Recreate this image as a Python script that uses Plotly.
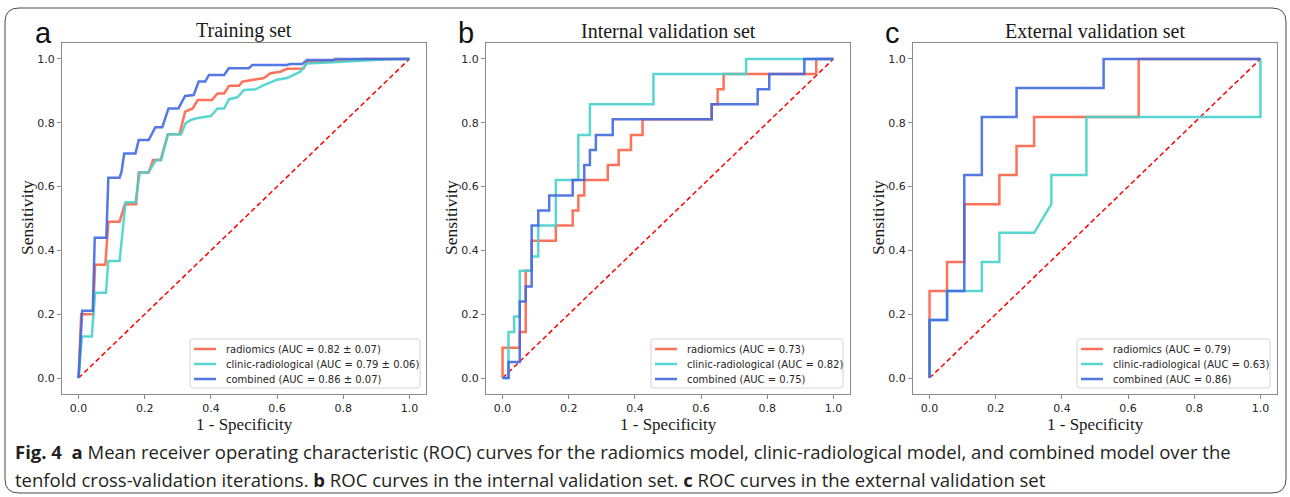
import plotly.graph_objects as go

# ---------------- data ----------------
panel_titles = ["Training set", "Internal validation set", "External validation set"]
panel_letters = ["a", "b", "c"]
series_names = ["radiomics", "clinic-radiological", "combined"]
series_colors = ["rgba(255,99,71,0.9)", "rgba(72,209,204,0.9)", "rgba(65,105,225,0.9)"]

auc_labels = [
    ["radiomics (AUC = 0.82 ± 0.07)", "clinic-radiological (AUC = 0.79 ± 0.06)", "combined (AUC = 0.86 ± 0.07)"],
    ["radiomics (AUC = 0.73)", "clinic-radiological (AUC = 0.82)", "combined (AUC = 0.75)"],
    ["radiomics (AUC = 0.79)", "clinic-radiological (AUC = 0.63)", "combined (AUC = 0.86)"],
]

# Training set (mean ROC)
train_fpr_radiomics = [0, 0.008, 0.044, 0.05, 0.081, 0.09, 0.124, 0.14, 0.174, 0.182, 0.212, 0.225, 0.248, 0.27, 0.305,
                       0.322, 0.345, 0.36, 0.403, 0.42, 0.44, 0.455, 0.485, 0.495, 0.56, 0.58, 0.61, 0.63, 0.68, 0.69,
                       0.8, 0.86, 1.0]
train_tpr_radiomics = [0, 0.2, 0.2, 0.355, 0.355, 0.49, 0.49, 0.545, 0.545, 0.644, 0.644, 0.683, 0.683, 0.764, 0.764,
                       0.835, 0.845, 0.871, 0.871, 0.892, 0.892, 0.916, 0.916, 0.929, 0.94, 0.955, 0.96, 0.969, 0.97,
                       0.99, 0.995, 1.0, 1.0]
train_fpr_clinic = [0, 0.01, 0.04, 0.05, 0.083, 0.09, 0.124, 0.142, 0.172, 0.185, 0.21, 0.235, 0.25, 0.27, 0.31, 0.323,
                    0.34, 0.36, 0.40, 0.42, 0.44, 0.455, 0.48, 0.50, 0.535, 0.56, 0.60, 0.63, 0.67, 0.69, 0.77, 0.86,
                    0.95, 1.0]
train_tpr_clinic = [0, 0.13, 0.13, 0.267, 0.267, 0.367, 0.367, 0.551, 0.551, 0.644, 0.644, 0.683, 0.683, 0.764, 0.764,
                    0.798, 0.809, 0.815, 0.821, 0.845, 0.845, 0.874, 0.88, 0.903, 0.905, 0.918, 0.935, 0.94, 0.96,
                    0.986, 0.99, 0.995, 1.0, 1.0]
train_fpr_combined = [0, 0.011, 0.043, 0.049, 0.084, 0.09, 0.124, 0.13, 0.138, 0.172, 0.182, 0.212, 0.232, 0.253, 0.272,
                      0.302, 0.322, 0.348, 0.363, 0.383, 0.394, 0.44, 0.454, 0.515, 0.525, 0.63, 0.64, 0.676, 0.69,
                      0.77, 0.776, 1.0]
train_tpr_combined = [0, 0.211, 0.211, 0.44, 0.44, 0.628, 0.628, 0.647, 0.704, 0.704, 0.746, 0.746, 0.786, 0.786,
                      0.845, 0.845, 0.884, 0.887, 0.929, 0.929, 0.95, 0.95, 0.971, 0.971, 0.981, 0.981, 0.984, 0.984,
                      0.997, 0.997, 1.0, 1.0]

# Internal validation set
int_fpr_radiomics = [0, 0, 0.052, 0.052, 0.07, 0.07, 0.088, 0.088, 0.161, 0.161, 0.212, 0.212, 0.229, 0.229, 0.247,
                     0.247, 0.318, 0.318, 0.351, 0.351, 0.388, 0.388, 0.423, 0.423, 0.632, 0.632, 0.65, 0.65, 0.668,
                     0.668, 0.948, 0.948, 1.0]
int_tpr_radiomics = [0, 0.095, 0.095, 0.144, 0.144, 0.336, 0.336, 0.43, 0.43, 0.478, 0.478, 0.525, 0.525, 0.572,
                     0.572, 0.621, 0.621, 0.668, 0.668, 0.715, 0.715, 0.762, 0.762, 0.811, 0.811, 0.858, 0.858, 0.905,
                     0.905, 0.953, 0.953, 1.0, 1.0]
int_fpr_clinic = [0, 0.018, 0.018, 0.035, 0.035, 0.052, 0.052, 0.088, 0.088, 0.108, 0.108, 0.161, 0.161, 0.229, 0.229,
                  0.264, 0.264, 0.456, 0.456, 0.736, 0.736, 1.0]
int_tpr_clinic = [0, 0, 0.144, 0.144, 0.193, 0.193, 0.336, 0.336, 0.381, 0.381, 0.478, 0.478, 0.621, 0.621, 0.762,
                  0.762, 0.858, 0.858, 0.953, 0.953, 1.0, 1.0]
int_fpr_combined = [0, 0.018, 0.018, 0.052, 0.052, 0.07, 0.07, 0.088, 0.088, 0.108, 0.108, 0.141, 0.141, 0.212, 0.212,
                    0.247, 0.247, 0.264, 0.264, 0.282, 0.282, 0.333, 0.333, 0.632, 0.632, 0.771, 0.771, 0.806, 0.806,
                    0.912, 0.912, 1.0]
int_tpr_combined = [0, 0, 0.05, 0.05, 0.24, 0.24, 0.287, 0.287, 0.478, 0.478, 0.525, 0.525, 0.572, 0.572, 0.621, 0.621,
                    0.668, 0.668, 0.715, 0.715, 0.762, 0.762, 0.811, 0.811, 0.858, 0.858, 0.905, 0.905, 0.953, 0.953,
                    1.0, 1.0]

# External validation set
ext_fpr_radiomics = [0, 0, 0.053, 0.053, 0.105, 0.105, 0.211, 0.211, 0.263, 0.263, 0.316, 0.316, 0.632, 0.632, 1.0]
ext_tpr_radiomics = [0, 0.273, 0.273, 0.364, 0.364, 0.545, 0.545, 0.636, 0.636, 0.727, 0.727, 0.818, 0.818, 1.0, 1.0]
ext_fpr_clinic = [0, 0, 0.053, 0.053, 0.105, 0.105, 0.158, 0.158, 0.211, 0.211, 0.316, 0.368, 0.368, 0.474, 0.474,
                  1.0, 1.0]
ext_tpr_clinic = [0, 0.182, 0.182, 0.273, 0.273, 0.273, 0.273, 0.364, 0.364, 0.455, 0.455, 0.545, 0.636, 0.636, 0.818,
                  0.818, 1.0]
ext_fpr_combined = [0, 0, 0.053, 0.053, 0.105, 0.105, 0.158, 0.158, 0.263, 0.263, 0.526, 0.526, 1.0]
ext_tpr_combined = [0, 0.182, 0.182, 0.273, 0.273, 0.636, 0.636, 0.818, 0.818, 0.909, 0.909, 1.0, 1.0]

chance_line = [0, 1]
tick_values = [0.0, 0.2, 0.4, 0.6, 0.8, 1.0]
tick_labels = ["0.0", "0.2", "0.4", "0.6", "0.8", "1.0"]

caption_line1 = ("<b>Fig. 4</b>  <b>a</b> Mean receiver operating characteristic (ROC) curves for the radiomics model, "
                 "clinic-radiological model, and combined model over the")
caption_line2 = ("tenfold cross-validation iterations. <b>b</b> ROC curves in the internal validation set. "
                 "<b>c</b> ROC curves in the external validation set")

panels = [
    [(train_fpr_radiomics, train_tpr_radiomics), (train_fpr_clinic, train_tpr_clinic), (train_fpr_combined, train_tpr_combined)],
    [(int_fpr_radiomics, int_tpr_radiomics), (int_fpr_clinic, int_tpr_clinic), (int_fpr_combined, int_tpr_combined)],
    [(ext_fpr_radiomics, ext_tpr_radiomics), (ext_fpr_clinic, ext_tpr_clinic), (ext_fpr_combined, ext_tpr_combined)],
]

# ---------------- layout geometry (pixels) ----------------
W, H = 1290, 497
def px(x):
    return x / W
def py(y):
    return 1 - y / H

panel_left = [62, 486, 913]
panel_width = 364
plot_top, plot_bottom = 43, 394
legend_box_left = [190, 651, 1077]
legend_box_right = [420, 843, 1270]
legend_box_top, legend_box_bottom = 339, 388
legend_rows = [349, 364, 379]

fig = go.Figure()

for i in range(3):
    ax = "" if i == 0 else str(i + 1)
    xref, yref = "x" + ax, "y" + ax
    fig.add_trace(go.Scatter(x=chance_line, y=chance_line, mode="lines", xaxis=xref, yaxis=yref,
                             line=dict(color="red", width=1.5, dash="5px,3px"), showlegend=False,
                             hoverinfo="skip"))
    for j in range(3):
        fx, ty = panels[i][j]
        fig.add_trace(go.Scatter(x=fx, y=ty, mode="lines", xaxis=xref, yaxis=yref,
                                 name=auc_labels[i][j], showlegend=False,
                                 line=dict(color=series_colors[j], width=2.5)))

axis_common = dict(range=[-0.05, 1.05], tickvals=tick_values, ticktext=tick_labels, showgrid=False, zeroline=False,
                   showline=True, mirror=True, linecolor="#8a8a8a", linewidth=1.2, ticks="outside", ticklen=4,
                   tickcolor="#8a8a8a", tickfont=dict(family="DejaVu Sans", size=11, color="#262626"))

layout = dict(width=W, height=H, margin=dict(l=0, r=0, t=0, b=0), autosize=False,
              paper_bgcolor="white", plot_bgcolor="white", showlegend=False)
for i in range(3):
    ax = "" if i == 0 else str(i + 1)
    d = [px(panel_left[i]), px(panel_left[i] + panel_width)]
    layout["xaxis" + ax] = dict(axis_common, domain=d, anchor="y" + ax)
    layout["yaxis" + ax] = dict(axis_common, domain=[py(plot_bottom), py(plot_top)], anchor="x" + ax)
fig.update_layout(**layout)


def rounded_path(x0, y0, x1, y1, r):
    return (f"M {px(x0 + r)},{py(y0)} L {px(x1 - r)},{py(y0)} Q {px(x1)},{py(y0)} {px(x1)},{py(y0 + r)} "
            f"L {px(x1)},{py(y1 - r)} Q {px(x1)},{py(y1)} {px(x1 - r)},{py(y1)} "
            f"L {px(x0 + r)},{py(y1)} Q {px(x0)},{py(y1)} {px(x0)},{py(y1 - r)} "
            f"L {px(x0)},{py(y0 + r)} Q {px(x0)},{py(y0)} {px(x0 + r)},{py(y0)} Z")


annotations = []
serif = "Liberation Serif"
letter_x = [43, 466, 892]
for i in range(3):
    cx = panel_left[i] + panel_width / 2
    annotations.append(dict(text=panel_titles[i], x=px(cx), y=py(31), xref="paper", yref="paper",
                            xanchor="center", yanchor="middle", showarrow=False,
                            font=dict(family=serif, size=20, color="#1a1a1a")))
    annotations.append(dict(text=panel_letters[i], x=px(letter_x[i]), y=py(33), xref="paper", yref="paper",
                            xanchor="center", yanchor="middle", showarrow=False,
                            font=dict(family="Liberation Sans", size=29, color="#111111")))
    annotations.append(dict(text="1 - Specificity", x=px(cx), y=py(424), xref="paper", yref="paper",
                            xanchor="center", yanchor="middle", showarrow=False,
                            font=dict(family=serif, size=17, color="#1a1a1a")))
    annotations.append(dict(text="Sensitivity", x=px(panel_left[i] - 35), y=py(218), xref="paper", yref="paper",
                            xanchor="center", yanchor="middle", showarrow=False, textangle=-90,
                            font=dict(family=serif, size=17.5, color="#1a1a1a")))

    # legend (box, sample lines, labels)
    fig.add_shape(type="path", path=rounded_path(legend_box_left[i], legend_box_top, legend_box_right[i],
                                                 legend_box_bottom, 3),
                  xref="paper", yref="paper", line=dict(color="#d4d4d4", width=1),
                  fillcolor="rgba(255,255,255,0.85)")
    for j in range(3):
        lx0 = legend_box_left[i] + 4
        fig.add_shape(type="line", xref="paper", yref="paper", x0=px(lx0), x1=px(lx0 + 22),
                      y0=py(legend_rows[j]), y1=py(legend_rows[j]),
                      line=dict(color=series_colors[j], width=2.5))
        annotations.append(dict(text=auc_labels[i][j], x=px(lx0 + 30), y=py(legend_rows[j]), xref="paper",
                                yref="paper", xanchor="left", yanchor="middle", showarrow=False,
                                font=dict(family="DejaVu Sans", size=10, color="#262626")))

annotations.append(dict(text=caption_line1, x=px(13), y=py(451), xref="paper", yref="paper", xanchor="left",
                        yanchor="middle", showarrow=False, font=dict(family="Open Sans", size=18.5, color="#231f20")))
annotations.append(dict(text=caption_line2, x=px(13), y=py(479), xref="paper", yref="paper", xanchor="left",
                        yanchor="middle", showarrow=False, font=dict(family="Open Sans", size=18.5, color="#231f20")))
fig.update_layout(annotations=annotations)

# rounded outer frame
fig.add_shape(type="path", path=rounded_path(5, 8, 1286, 493, 14), xref="paper", yref="paper",
              line=dict(color="#4a4a4a", width=1))

fig.write_html("out.html")
